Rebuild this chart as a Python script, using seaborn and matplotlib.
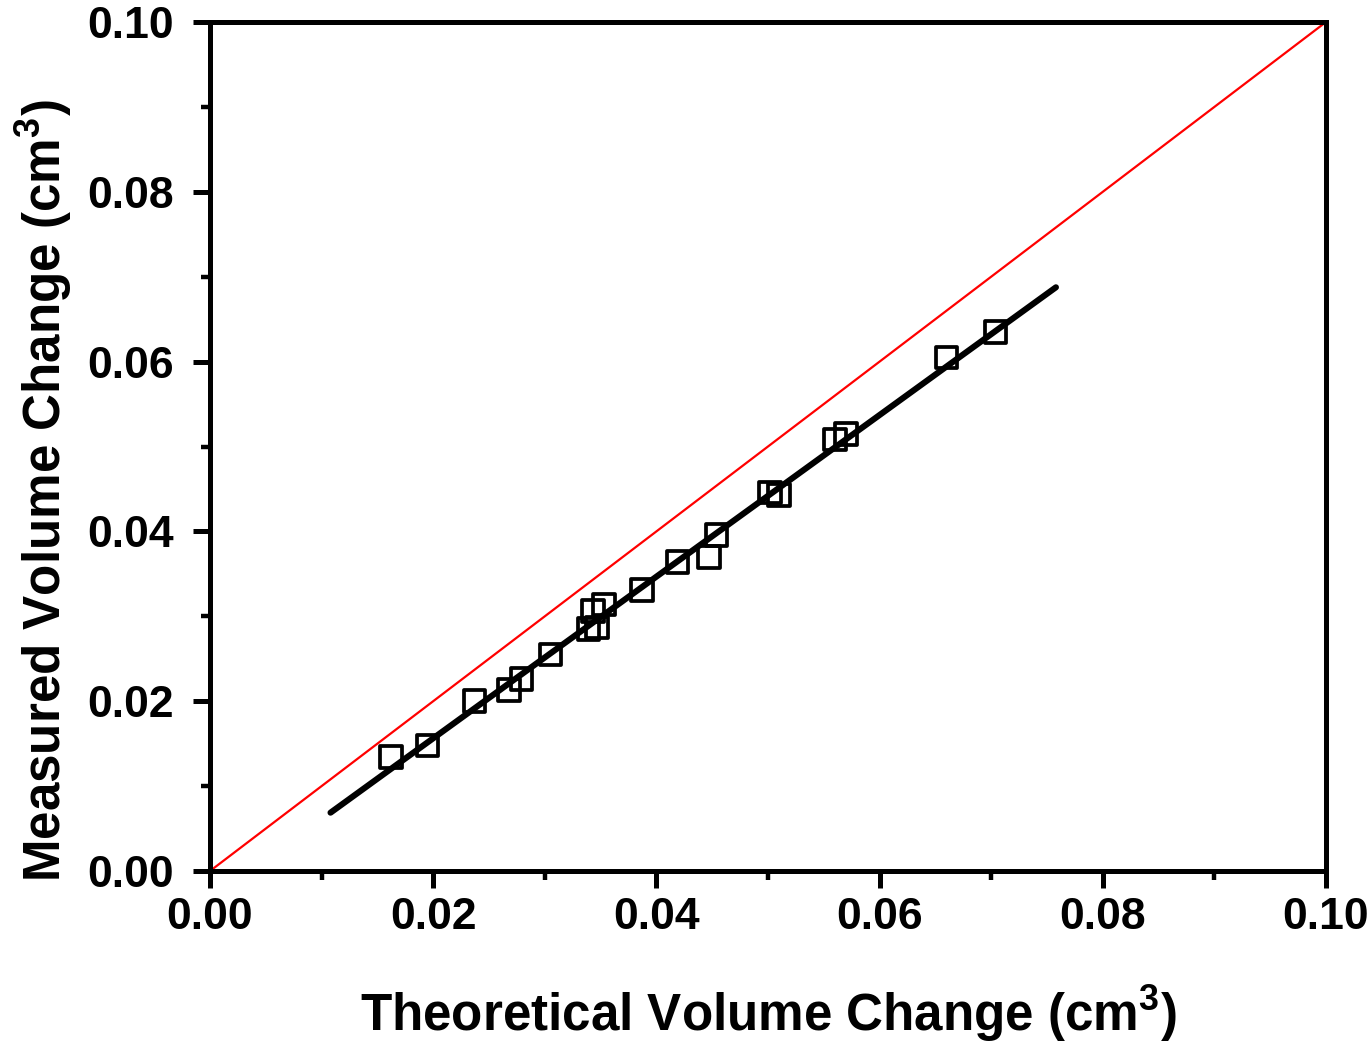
import matplotlib
matplotlib.use("Agg")
import matplotlib.pyplot as plt
import seaborn as sns
import numpy as np
import pandas as pd
from matplotlib.ticker import MultipleLocator, FormatStrFormatter

# Data
theoretical = [0.0162, 0.0195, 0.0237, 0.0268, 0.0279, 0.0305, 0.0339, 0.0347,
               0.0343, 0.0353, 0.0387, 0.0419, 0.0447, 0.0454, 0.0502, 0.0510,
               0.0560, 0.0570, 0.0660, 0.0704]
measured = [0.0134, 0.0148, 0.0200, 0.0213, 0.0226, 0.0255, 0.0285, 0.0287,
            0.0306, 0.0314, 0.0331, 0.0364, 0.0370, 0.0396, 0.0446, 0.0443,
            0.0508, 0.0515, 0.0605, 0.0635]
fit_x = [0.0108, 0.0758]
fit_slope = 0.952
fit_intercept = -0.00341
ref_x = [0.0, 0.10]
ref_y = [0.0, 0.10]

sns.set_style("ticks")
plt.rcParams['font.family'] = ['Liberation Sans', 'DejaVu Sans']
plt.rcParams['font.weight'] = 'bold'
plt.rcParams['mathtext.fontset'] = 'custom'
plt.rcParams['mathtext.rm'] = 'Liberation Sans:bold'
plt.rcParams['mathtext.bf'] = 'Liberation Sans:bold'
plt.rcParams['mathtext.default'] = 'bf'
for k in ['text.color', 'axes.labelcolor', 'xtick.color', 'ytick.color', 'axes.edgecolor']:
    plt.rcParams[k] = 'black'

fig = plt.figure(figsize=(13.72, 10.43), dpi=100)
ax = fig.add_axes([210/1372, 1-871/1043, (1326-210)/1372, (871-22)/1043])

df = pd.DataFrame({"x": theoretical, "y": measured})
fit_df = pd.DataFrame({"x": fit_x, "y": [fit_slope * v + fit_intercept for v in fit_x]})
ref_df = pd.DataFrame({"x": ref_x, "y": ref_y})

sns.lineplot(data=ref_df, x="x", y="y", ax=ax, color="#ff0000", lw=1.6, zorder=2)
sns.lineplot(data=fit_df, x="x", y="y", ax=ax, color="black", lw=4.4, zorder=3)
sns.scatterplot(data=df, x="x", y="y", ax=ax, marker="s", s=240,
                facecolor="none", edgecolor="black", linewidth=2.7, zorder=4)

ax.set_xlim(0, 0.10)
ax.set_ylim(0, 0.10)
ax.xaxis.set_major_locator(MultipleLocator(0.02))
ax.xaxis.set_minor_locator(MultipleLocator(0.01))
ax.yaxis.set_major_locator(MultipleLocator(0.02))
ax.yaxis.set_minor_locator(MultipleLocator(0.01))
ax.xaxis.set_major_formatter(FormatStrFormatter('%.2f'))
ax.yaxis.set_major_formatter(FormatStrFormatter('%.2f'))

for s in ax.spines.values():
    s.set_visible(True)
    s.set_linewidth(3.6)
    s.set_color("black")

ax.tick_params(which='major', direction='out', length=12, width=3.6,
               labelsize=32, top=False, right=False)
ax.tick_params(axis='x', which='major', pad=7)
ax.tick_params(axis='y', which='major', pad=14)
ax.tick_params(which='minor', direction='out', length=6.5, width=3.2,
               top=False, right=False)
for lab in ax.get_xticklabels() + ax.get_yticklabels():
    lab.set_fontweight('bold')

ax.set_xlabel("Theoretical Volume Change (cm$^\\mathbf{3}$)", fontsize=36.8,
              fontweight='bold', labelpad=32)
ax.set_ylabel("Measured Volume Change (cm$^\\mathbf{3}$)", fontsize=36.8,
              fontweight='bold')
ax.yaxis.set_label_coords(-0.122, 0.4476)
ax.grid(False)

fig.savefig("out.png", dpi=100)
